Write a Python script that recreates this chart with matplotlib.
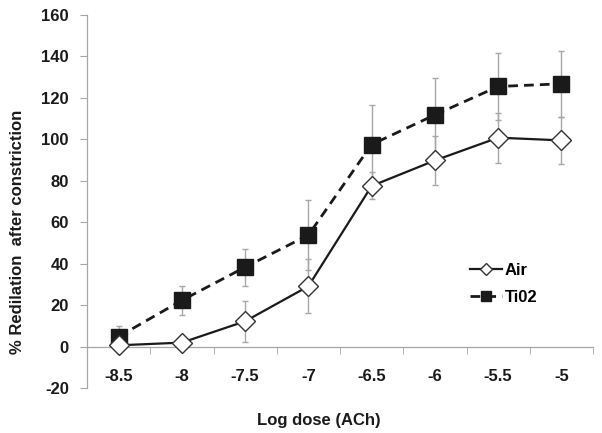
import matplotlib
matplotlib.use("Agg")
import matplotlib.pyplot as plt
from matplotlib.lines import Line2D
import numpy as np

categories = ["-8.5", "-8", "-7.5", "-7", "-6.5", "-6", "-5.5", "-5"]
air_values = [0.6, 1.9, 12.2, 29.1, 77.5, 89.8, 100.8, 99.5]
air_errors = [0.5, 1.0, 10.0, 13.0, 6.5, 12.0, 12.0, 11.5]
tio2_values = [4.8, 22.3, 38.3, 53.8, 97.5, 111.8, 125.5, 126.8]
tio2_errors = [5.0, 7.0, 9.0, 17.0, 19.0, 18.0, 16.0, 16.0]
yticks = [-20, 0, 20, 40, 60, 80, 100, 120, 140, 160]

plt.rcParams['font.family'] = ['Liberation Sans', 'DejaVu Sans']
plt.rcParams['font.weight'] = 'bold'

fig = plt.figure(figsize=(6.02, 4.33), dpi=100)
ax = fig.add_axes([87/602, 1-388/433, (593-87)/602, (388-15)/433])

x = np.arange(len(categories))

ecol = '#a6a6a6'
ax.errorbar(x, air_values, yerr=air_errors, fmt='none', ecolor=ecol,
            elinewidth=1.0, capsize=2.5, capthick=1.0, zorder=1)
ax.errorbar(x, tio2_values, yerr=tio2_errors, fmt='none', ecolor=ecol,
            elinewidth=1.0, capsize=2.5, capthick=1.0, zorder=1)

ax.plot(x, tio2_values, color='#1a1a1a', lw=2.0, linestyle=(0, (3.5, 2.2)),
        marker='s', markersize=11.5, markerfacecolor='#1a1a1a',
        markeredgecolor='#1a1a1a', zorder=3, label='Ti02')
ax.plot(x, air_values, color='#1a1a1a', lw=1.6, linestyle='-',
        marker='D', markersize=10, markerfacecolor='white',
        markeredgecolor='#333333', markeredgewidth=1.0, zorder=4, label='Air')

ax.set_xlim(-0.5, len(categories) - 0.5)
ax.set_ylim(-20, 160)
ax.set_yticks(yticks)
ax.set_yticklabels([str(v) for v in yticks], fontsize=12, fontweight='bold',
                   color='#1a1a1a')

ax.spines['bottom'].set_position(('data', 0))
ax.spines['top'].set_visible(False)
ax.spines['right'].set_visible(False)
ax.spines['left'].set_color('#a6a6a6')
ax.spines['bottom'].set_color('#a6a6a6')
ax.spines['left'].set_linewidth(0.9)
ax.spines['bottom'].set_linewidth(0.9)

ax.set_xticks(x)
ax.set_xticklabels(categories, fontsize=12, fontweight='bold', color='#1a1a1a')
ax.tick_params(axis='x', which='major', length=0, pad=16)
ax.set_xticks(np.arange(-0.5, len(categories)), minor=True)
ax.tick_params(axis='x', which='minor', length=5, color='#a6a6a6', direction='out')
ax.tick_params(axis='y', which='major', length=5, color='#a6a6a6', direction='out', pad=8)

fig.text(18/602, 1-232/433, "% Redilation  after constriction", rotation=90,
         ha='center', va='center', fontsize=12, fontweight='bold', color='#1a1a1a')
fig.text(319/602, 1-420/433, "Log dose (ACh)", ha='center', va='center',
         fontsize=12, fontweight='bold', color='#1a1a1a')

h_air = Line2D([], [], color='#1a1a1a', lw=1.6, marker='D', markersize=6,
               markerfacecolor='white', markeredgecolor='#333333')
h_ti = Line2D([], [], color='#1a1a1a', lw=2.0, linestyle=(0, (3.5, 2.2)), marker='s',
              markersize=7, markerfacecolor='#1a1a1a')
leg = ax.legend([h_air, h_ti], ['Air', 'Ti02'], loc='upper left',
                bbox_to_anchor=(455/602, 1-248/433), bbox_transform=fig.transFigure,
                frameon=False, handlelength=1.9, handletextpad=0.2, labelspacing=0.7,
                prop={'family': 'Liberation Sans', 'weight': 'bold', 'size': 12})

fig.savefig("out.png", dpi=100)
